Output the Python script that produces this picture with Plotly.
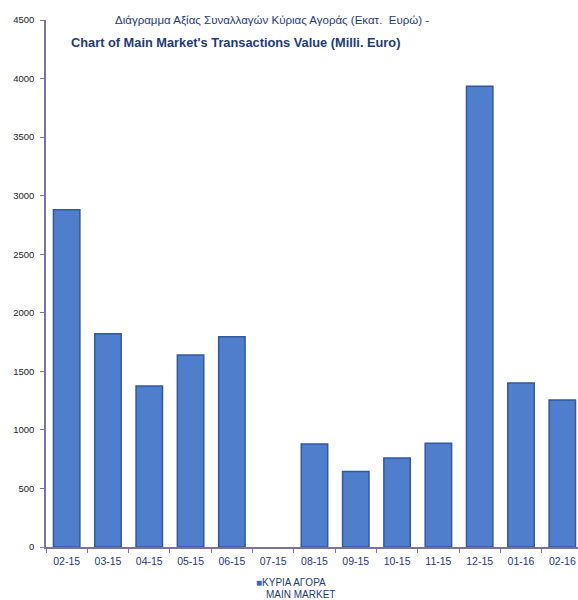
import plotly.graph_objects as go

months = ["02-15", "03-15", "04-15", "05-15", "06-15", "07-15", "08-15",
          "09-15", "10-15", "11-15", "12-15", "01-16", "02-16"]
values = [2880, 1820, 1375, 1640, 1795, 0, 880, 645, 760, 885, 3935, 1400, 1255]
series_name = "ΚΥΡΙΑ ΑΓΟΡΑ"
series_name_en = "MAIN MARKET"
y_ticks = [0, 500, 1000, 1500, 2000, 2500, 3000, 3500, 4000, 4500]

NARROW = "Liberation Sans Narrow, Arial Narrow, Liberation Sans, sans-serif"
DARK = "#1f3a78"
BAR = "#4f7fcc"

line_widths = [1.5 if v > 0 else 0 for v in values]

fig = go.Figure()
fig.add_trace(go.Bar(
    x=months, y=values, name=series_name,
    marker=dict(color=BAR, line=dict(color="#34589a", width=line_widths)),
    showlegend=False,
))

fig.update_layout(
    width=578, height=600,
    margin=dict(l=46, r=0, t=20, b=53),
    paper_bgcolor="white", plot_bgcolor="white",
    bargap=0.36,
    font=dict(family=NARROW, color=DARK),
    xaxis=dict(
        range=[-0.5, 12.38],
        showline=True, linecolor="#7a72a6", linewidth=1.5,
        ticks="outside", tickson="boundaries", ticklen=4, tickcolor="#7a72a6",
        tickfont=dict(size=10.5, color=DARK, family=NARROW),
        ticklabelstandoff=4,
        showgrid=False,
    ),
    yaxis=dict(
        range=[0, 4500], tickvals=y_ticks,
        showline=True, linecolor="#7a72a6", linewidth=1.5,
        ticks="outside", ticklen=4, tickcolor="#7a72a6",
        tickfont=dict(size=9.5, color="#222", family=NARROW),
        ticklabelstandoff=4,
        showgrid=False, zeroline=False,
    ),
    annotations=[
        dict(text="Διάγραμμα Αξίας Συναλλαγών Κύριας Αγοράς (Εκατ.  Ευρώ) -",
             x=0.425, y=1.0, xref="paper", yref="paper", showarrow=False,
             xanchor="center", yanchor="middle",
             font=dict(size=11.5, color=DARK, family=NARROW)),
        dict(text="<b>Chart of Main Market's Transactions Value (Milli. Euro)</b>",
             x=0.357, y=0.958, xref="paper", yref="paper", showarrow=False,
             xanchor="center", yanchor="middle",
             font=dict(size=12.8, color=DARK, family=NARROW)),
        dict(text=f"<span style='color:#3d66b0'>■</span>{series_name}",
             x=0.4605, y=-0.0683, xref="paper", yref="paper", showarrow=False,
             xanchor="center", yanchor="middle",
             font=dict(size=10, color=DARK, family=NARROW)),
        dict(text=series_name_en,
             x=0.479, y=-0.0892, xref="paper", yref="paper", showarrow=False,
             xanchor="center", yanchor="middle",
             font=dict(size=10, color=DARK, family=NARROW)),
    ],
)

fig.write_html(
    "out.html",
    config={"displayModeBar": False},
    post_script="document.body.style.margin='0';document.body.style.overflow='hidden';",
)
